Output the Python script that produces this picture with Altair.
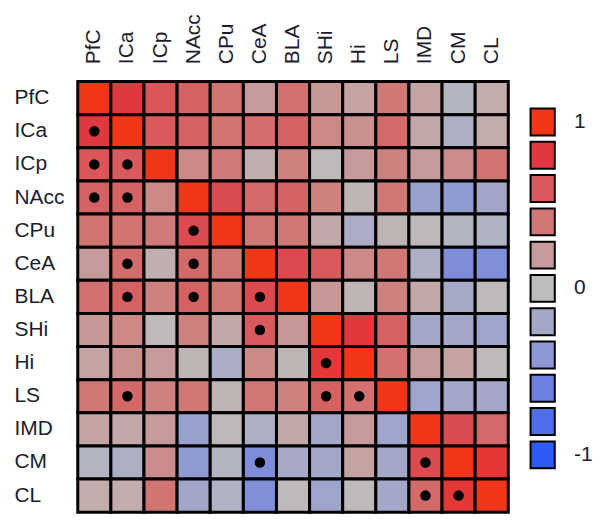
import altair as alt
import pandas as pd

regions = ["PfC", "ICa", "ICp", "NAcc", "CPu", "CeA", "BLA", "SHi", "Hi", "LS", "IMD", "CM", "CL"]

# upper-triangle correlations (values right of the diagonal, row by row)
r_PfC = [0.80, 0.62, 0.55, 0.42, 0.20, 0.45, 0.22, 0.15, 0.40, 0.15, -0.08, 0.10]
r_ICa = [0.60, 0.55, 0.42, 0.48, 0.55, 0.30, 0.25, 0.50, 0.12, -0.12, 0.10]
r_ICp = [0.30, 0.38, 0.08, 0.35, 0.02, 0.20, 0.35, 0.20, 0.28, 0.42]
r_NAcc = [0.68, 0.50, 0.55, 0.35, 0.05, 0.40, -0.30, -0.38, -0.22]
r_CPu = [0.40, 0.40, 0.12, -0.15, 0.05, 0.03, -0.08, -0.10]
r_CeA = [0.70, 0.60, 0.30, 0.40, -0.12, -0.50, -0.48]
r_BLA = [0.22, 0.05, 0.35, 0.12, -0.18, 0.02]
r_SHi = [0.82, 0.55, -0.20, -0.20, -0.25]
r_Hi = [0.45, 0.20, 0.15, 0.02]
r_LS = [-0.25, -0.20, -0.20]
r_IMD = [0.68, 0.50]
r_CM = [0.85]
r_CL = []
upper = [r_PfC, r_ICa, r_ICp, r_NAcc, r_CPu, r_CeA, r_BLA, r_SHi, r_Hi, r_LS, r_IMD, r_CM, r_CL]

# significant pairs (row, column) shown with a dot in the lower triangle
sig_rows = ["ICa", "ICp", "ICp", "NAcc", "NAcc", "CPu", "CeA", "CeA", "BLA", "BLA", "BLA",
            "SHi", "Hi", "LS", "LS", "LS", "CM", "CM", "CL", "CL"]
sig_cols = ["PfC", "PfC", "ICa", "PfC", "ICa", "NAcc", "ICa", "NAcc", "ICa", "NAcc", "CeA",
            "CeA", "SHi", "ICa", "SHi", "Hi", "CeA", "IMD", "IMD", "CM"]

legend_values = [1, 0.8, 0.6, 0.4, 0.2, 0, -0.2, -0.4, -0.6, -0.8, -1]
legend_colors = ["#F2361A", "#E0383F", "#D85A5C", "#D07876", "#C69A9A", "#BDBDBD",
                 "#A3A8C8", "#8D98D2", "#6F7FE0", "#4E6EEA", "#2E5BF5"]

n = len(regions)
mat = [[1.0] * n for _ in range(n)]
for i in range(n):
    for k, v in enumerate(upper[i]):
        j = i + 1 + k
        mat[i][j] = v
        mat[j][i] = v

rows = []
sig = set(zip(sig_rows, sig_cols))
for i in range(n):
    for j in range(n):
        rows.append({"row": regions[i], "col": regions[j], "r": mat[i][j],
                     "sig": (regions[i], regions[j]) in sig})
df = pd.DataFrame(rows)

FONT = "Liberation Sans"
TXT = "#1c1c2c"

x_enc = alt.X("col:N", sort=regions, title=None,
              scale=alt.Scale(paddingInner=0, paddingOuter=0),
              axis=alt.Axis(orient="top", labelAngle=-90, labelAlign="left", labelBaseline="middle",
                            labelPadding=18, ticks=False, tickSize=0, domain=False,
                            labelFont=FONT, labelFontSize=21, labelColor=TXT))
y_enc = alt.Y("row:N", sort=regions, title=None,
              scale=alt.Scale(paddingInner=0, paddingOuter=0),
              axis=alt.Axis(orient="left", labelAlign="left", labelBaseline="middle",
                            labelPadding=64, ticks=False, tickSize=0, domain=False,
                            labelFont=FONT, labelFontSize=21, labelColor=TXT))

color_scale = alt.Scale(domain=legend_values[::-1], range=legend_colors[::-1], interpolate="rgb")

cells = alt.Chart(df).mark_rect(stroke="black", strokeWidth=3).encode(
    x=x_enc, y=y_enc,
    color=alt.Color("r:Q", scale=color_scale,
                    legend=alt.Legend(type="symbol", values=legend_values, title=None,
                                      orient="none", legendX=452, legendY=26, padding=0,
                                      symbolType="M-0.9,-1H0.9V1H-0.9Z", symbolSize=729,
                                      symbolStrokeColor="black", symbolStrokeWidth=2,
                                      symbolOpacity=1, rowPadding=-1.6, labelOffset=17,
                                      labelFont=FONT, labelFontSize=21, labelColor=TXT,
                                      labelExpr="datum.value == 1 ? '1' : datum.value == 0 ? '0' : datum.value == -1 ? '-1' : ''"))
)

dots = alt.Chart(df).transform_filter("datum.sig").mark_circle(size=110, color="black", opacity=1).encode(
    x=alt.X("col:N", sort=regions), y=alt.Y("row:N", sort=regions)
)

chart = (cells + dots).properties(
    width=432, height=432,
    padding={"left": 6, "top": 4, "right": 0, "bottom": 0},
).configure_view(stroke=None).configure(background="white")

chart.save("out.html", embed_options={"renderer": "svg", "actions": False})
